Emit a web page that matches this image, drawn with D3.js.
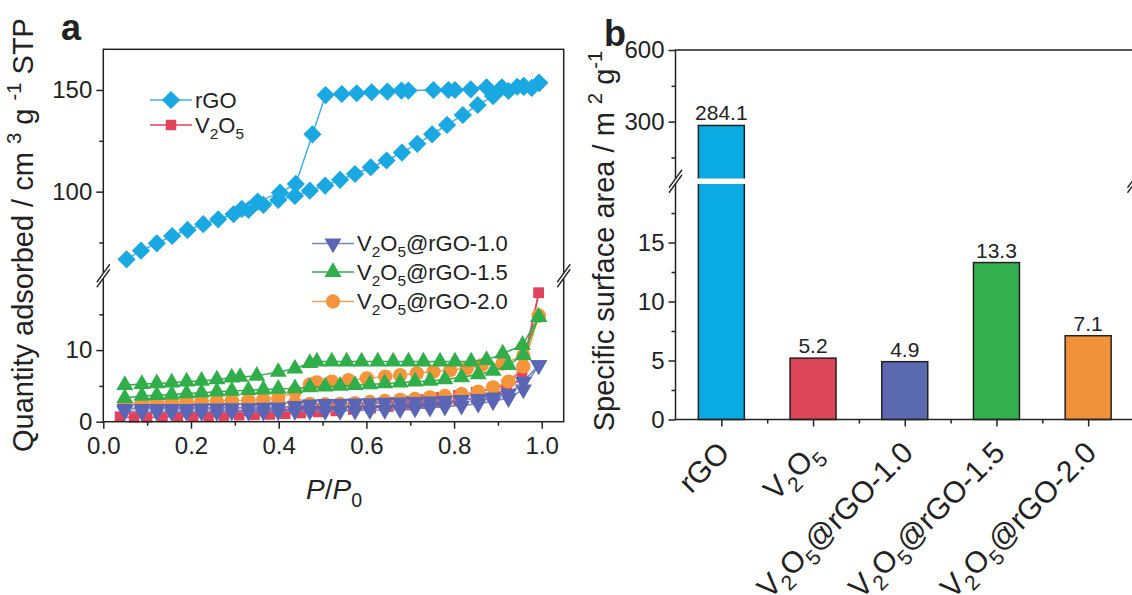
<!DOCTYPE html>
<html>
<head>
<meta charset="utf-8">
<script src="https://cdn.jsdelivr.net/npm/d3@7"></script>
<style>
	body { margin: 0; background: #fff; }
	text { font-family: "Liberation Sans", Arial, sans-serif; fill: #222; }
</style>
</head>
<body>
<script>
// ---------- data ----------

// (b) BET surface area
const categories = ["rGO", "V2O5", "V2O5@rGO-1.0", "V2O5@rGO-1.5", "V2O5@rGO-2.0"];
const surfaceArea = [284.1, 5.2, 4.9, 13.3, 7.1];
const barColors = ["#0aabe2", "#dc4558", "#5b69b1", "#35b04f", "#f0923a"];

// (a) isotherms, P/P0 and quantity adsorbed
const rgoAdsP = [0.053, 0.086, 0.122, 0.157, 0.192, 0.228, 0.262, 0.297, 0.331, 0.365, 0.399, 0.437, 0.471, 0.506,
	0.540, 0.574, 0.610, 0.646, 0.681, 0.716, 0.750, 0.784, 0.820, 0.854, 0.889, 0.924, 0.959, 0.994];
const rgoAdsQ = [66.7, 71.0, 74.6, 78.2, 81.2, 84.0, 86.4, 88.9, 91.0, 93.5, 95.9, 97.9, 100.5, 103.0,
	105.8, 108.7, 112.0, 115.3, 119.2, 123.5, 128.2, 132.8, 137.7, 142.6, 147.0, 149.5, 151.5, 153.5];
const rgoDesP = [0.994, 0.977, 0.959, 0.944, 0.909, 0.874, 0.838, 0.802, 0.787, 0.753, 0.696, 0.680, 0.648, 0.612,
	0.578, 0.544, 0.507, 0.477, 0.439, 0.403, 0.352, 0.316];
const rgoDesQ = [153.5, 151.0, 152.0, 151.6, 151.3, 151.3, 150.3, 150.0, 150.0, 150.0, 149.7, 149.7, 149.2, 148.9,
	148.4, 148.0, 147.5, 128.2, 103.8, 99.5, 95.1, 91.5];

const v2o5AdsP = [0.038, 0.07, 0.1, 0.135, 0.17, 0.205, 0.24, 0.275, 0.31, 0.345, 0.38, 0.415, 0.45, 0.49,
	0.53, 0.57, 0.61, 0.65, 0.69, 0.73, 0.77, 0.81, 0.85, 0.89, 0.92, 0.955, 0.993];
const v2o5AdsQ = [0.7, 0.6, 0.6, 0.65, 0.7, 0.75, 0.8, 0.85, 0.9, 0.95, 1.0, 1.1, 1.2, 1.35,
	1.5, 1.7, 1.9, 2.1, 2.3, 2.5, 2.7, 2.95, 3.3, 3.8, 4.5, 6.2, 18.0];
const v2o5DesP = [0.993, 0.955, 0.92, 0.89, 0.85, 0.81, 0.77, 0.73, 0.69, 0.65, 0.61, 0.57, 0.53, 0.49, 0.45];
const v2o5DesQ = [18.0, 7.4, 5.2, 4.6, 4.1, 3.7, 3.4, 3.1, 2.9, 2.7, 2.5, 2.3, 2.1, 1.8, 1.4];

// pressure points shared by the adsorption runs of the composites
const pGrid = [0.049, 0.088, 0.122, 0.156, 0.190, 0.224, 0.259, 0.293, 0.331, 0.365, 0.399, 0.437, 0.471, 0.506,
	0.540, 0.574, 0.608, 0.642, 0.677, 0.711, 0.745, 0.779, 0.817, 0.855, 0.889, 0.924, 0.958, 0.993];

const c10AdsQ = [1.5, 1.4, 1.4, 1.35, 1.35, 1.35, 1.35, 1.4, 1.4, 1.4, 1.45, 1.5, 1.5, 1.5,
	1.5, 1.55, 1.6, 1.65, 1.75, 1.85, 1.95, 2.1, 2.25, 2.5, 2.85, 3.3, 4.5, 7.9];
const c10DesQ = [1.8, 1.8, 1.8, 1.8, 1.8, 1.85, 1.85, 1.9, 1.9, 1.95, 2.0, 2.2, 2.4, 2.5,
	2.5, 2.55, 2.6, 2.65, 2.7, 2.75, 2.85, 2.95, 3.05, 3.2, 3.4, 3.9, 5.6, 7.9];

const c15AdsQ = [3.3, 3.6, 3.7, 3.8, 3.95, 4.05, 4.2, 4.3, 4.4, 4.5, 4.6, 4.65, 4.8, 4.9,
	5.0, 5.1, 5.2, 5.35, 5.45, 5.6, 5.7, 5.9, 6.2, 6.6, 7.1, 7.9, 9.3, 14.6];
const c15DesP = [0.993, 0.956, 0.911, 0.874, 0.839, 0.802, 0.768, 0.730, 0.696, 0.661, 0.626, 0.589, 0.555, 0.521,
	0.487, 0.471, 0.437, 0.399, 0.350, 0.312, 0.293, 0.259, 0.224, 0.190, 0.156, 0.122, 0.088, 0.049];
const c15DesQ = [14.6, 10.7, 9.5, 8.6, 8.4, 8.4, 8.4, 8.4, 8.4, 8.4, 8.4, 8.4, 8.4, 8.4,
	8.4, 8.2, 7.4, 6.95, 6.4, 6.25, 6.15, 5.9, 5.7, 5.6, 5.45, 5.35, 5.25, 5.1];

const c20AdsQ = [2.3, 2.35, 2.4, 2.4, 2.45, 2.45, 2.5, 2.5, 2.55, 2.55, 2.6, 2.6, 2.5, 2.45,
	2.5, 2.6, 2.75, 2.9, 3.05, 3.2, 3.4, 3.6, 3.85, 4.2, 4.8, 5.6, 7.7, 14.8];
const c20DesP = [0.993, 0.958, 0.910, 0.863, 0.829, 0.791, 0.753, 0.715, 0.677, 0.643, 0.601, 0.559, 0.521, 0.487,
	0.471, 0.437, 0.399, 0.365, 0.331, 0.293, 0.259, 0.224, 0.190, 0.156, 0.122, 0.088, 0.049];
const c20DesQ = [14.8, 9.2, 8.1, 7.9, 7.45, 7.2, 7.0, 6.75, 6.5, 6.3, 6.05, 5.8, 5.6, 5.5,
	5.2, 4.2, 3.3, 3.1, 3.0, 2.95, 2.9, 2.85, 2.8, 2.75, 2.7, 2.65, 2.6];

// ticks
const xTicks = [0, 0.2, 0.4, 0.6, 0.8, 1.0];
const xMinor = [0.1, 0.3, 0.5, 0.7, 0.9];
const yTicksUpperL = [100, 150], yMinorUpperL = [75, 125];
const yTicksLowerL = [0, 10], yMinorLowerL = [5, 15];
const yTicksUpperR = [300, 600], yMinorUpperR = [150, 450];
const yTicksLowerR = [0, 5, 10, 15], yMinorLowerR = [2.5, 7.5, 12.5, 17.5];

// ---------- helpers ----------
const ink = "#222";
const svg = d3.select("body").append("svg").attr("width", 1132).attr("height", 595);

// turns "V2O5@rGO-1.0" into text parts with subscripts
function nameParts(name) {
	if (name.startsWith("V2O5")) {
		return [["V", ""], ["2", "sub"], ["O", ""], ["5", "sub"], [name.slice(4), ""]];
	}
	return [[name, ""]];
}

// writes parts ([text, kind]) as tspans, kind is "", "sub", "sup" or "i"
function richText(sel, parts, size) {
	let shift = 0;
	for (const [t, kind] of parts) {
		if (t === "") continue;
		let target = kind == "sub" ? 0.28 * size : kind == "sup" ? -0.42 * size : 0;
		let ts = sel.append("tspan").attr("dy", target - shift).text(t);
		if (kind == "sub" || kind == "sup") ts.attr("font-size", size * 0.7);
		if (kind == "i") ts.attr("font-style", "italic");
		shift = target;
	}
}

function styleAxis(g) {
	g.select(".domain").remove();
	g.selectAll("line").attr("stroke", ink).attr("stroke-width", 1.5);
	g.selectAll("text").attr("font-size", 24).attr("fill", ink);
}

// the "//" sign over an axis break
function breakMark(x, y, gap) {
	svg.append("rect").attr("x", x - 3).attr("y", y - gap / 2).attr("width", 6).attr("height", gap).attr("fill", "#fff");
	for (const d of [-2.5, 2.5]) {
		svg.append("line")
			.attr("x1", x - 6.5).attr("y1", y + d + 9)
			.attr("x2", x + 6.5).attr("y2", y + d - 9)
			.attr("stroke", ink).attr("stroke-width", 1.3);
	}
}

function symbolPath(kind) {
	if (kind == "diamond") return { d: d3.symbol(d3.symbolSquare, 165)(), rot: 45 };
	if (kind == "square") return { d: d3.symbol(d3.symbolSquare, 110)(), rot: 0 };
	if (kind == "up") return { d: d3.symbol(d3.symbolTriangle, 125)(), rot: 0 };
	if (kind == "down") return { d: d3.symbol(d3.symbolTriangle, 125)(), rot: 180 };
	return { d: d3.symbol(d3.symbolCircle, 160)(), rot: 0 };
}

// ---------- panel a ----------
const xL = d3.scaleLinear().domain([0, 1.05]).range([103.3, 563.7]);
const yLUp = d3.scaleLinear().domain([60, 170]).range([273, 49.3]);
const yLLo = d3.scaleLinear().domain([0, 20]).range([421.7, 278.5]);
const yL = v => v > 40 ? yLUp(v) : yLLo(v);

const isotherms = [
	{ name: "rGO", color: "#19a8e1", line: "#3fb2e3", symbol: "diamond", runs: [[rgoAdsP, rgoAdsQ], [rgoDesP, rgoDesQ]] },
	{ name: "V2O5", color: "#e0435b", line: "#e0435b", symbol: "square", runs: [[v2o5AdsP, v2o5AdsQ], [v2o5DesP, v2o5DesQ]] },
	{ name: "V2O5@rGO-1.0", color: "#5a66b5", line: "#7a84c4", symbol: "down", runs: [[pGrid, c10AdsQ], [pGrid, c10DesQ]] },
	{ name: "V2O5@rGO-1.5", color: "#2fae4a", line: "#2fae4a", symbol: "up", runs: [[pGrid, c15AdsQ], [c15DesP, c15DesQ]] },
	{ name: "V2O5@rGO-2.0", color: "#f4943b", line: "#f4a050", symbol: "circle", runs: [[pGrid, c20AdsQ], [c20DesP, c20DesQ]] }
];
const drawOrder = [0, 1, 4, 3, 2];

const line = d3.line().x(d => xL(d[0])).y(d => yL(d[1]));

for (const k of drawOrder) {
	const s = isotherms[k];
	const sym = symbolPath(s.symbol);
	for (const [ps, qs] of s.runs) {
		const pts = ps.map((p, i) => [p, qs[i]]);
		svg.append("path").datum(pts)
			.attr("d", line).attr("fill", "none")
			.attr("stroke", s.line).attr("stroke-width", 1.5);
		svg.append("g").selectAll("path").data(pts).enter().append("path")
			.attr("d", sym.d)
			.attr("transform", d => `translate(${xL(d[0])},${yL(d[1])}) rotate(${sym.rot})`)
			.attr("fill", s.color);
	}
}

// frame and axes
svg.append("rect").attr("x", xL(0)).attr("y", yLUp(170))
	.attr("width", xL(1.05) - xL(0)).attr("height", yLLo(0) - yLUp(170))
	.attr("fill", "none").attr("stroke", ink).attr("stroke-width", 1.5);

svg.append("g").attr("transform", `translate(${xL(0)},0)`)
	.call(d3.axisLeft(yLUp).tickValues(yTicksUpperL).tickSize(7).tickPadding(4)).call(styleAxis);
svg.append("g").attr("transform", `translate(${xL(0)},0)`)
	.call(d3.axisLeft(yLUp).tickValues(yMinorUpperL).tickSize(4).tickFormat("")).call(styleAxis);
svg.append("g").attr("transform", `translate(${xL(0)},0)`)
	.call(d3.axisLeft(yLLo).tickValues(yTicksLowerL).tickSize(7).tickPadding(4)).call(styleAxis);
svg.append("g").attr("transform", `translate(${xL(0)},0)`)
	.call(d3.axisLeft(yLLo).tickValues(yMinorLowerL).tickSize(4).tickFormat("")).call(styleAxis);
svg.append("g").attr("transform", `translate(0,${yLLo(0)})`)
	.call(d3.axisBottom(xL).tickValues(xTicks).tickSize(7).tickPadding(8).tickFormat(d3.format(".1f"))).call(styleAxis);
svg.append("g").attr("transform", `translate(0,${yLLo(0)})`)
	.call(d3.axisBottom(xL).tickValues(xMinor).tickSize(4).tickFormat("")).call(styleAxis);

breakMark(xL(0), (yLUp(60) + yLLo(20)) / 2, 6);
breakMark(xL(1.05), (yLUp(60) + yLLo(20)) / 2, 6);

// legends
const legendRows = [
	{ k: 0, x: 150, y: 100 }, { k: 1, x: 150, y: 125 },
	{ k: 2, x: 312, y: 243.5 }, { k: 3, x: 312, y: 272 }, { k: 4, x: 312, y: 301.5 }
];
for (const r of legendRows) {
	const s = isotherms[r.k];
	const sym = symbolPath(s.symbol);
	svg.append("line").attr("x1", r.x).attr("x2", r.x + 42).attr("y1", r.y).attr("y2", r.y)
		.attr("stroke", s.line).attr("stroke-width", 1.5);
	svg.append("path").attr("d", sym.d)
		.attr("transform", `translate(${r.x + 21},${r.y}) rotate(${sym.rot})`).attr("fill", s.color);
	svg.append("text").attr("x", r.x + 45).attr("y", r.y + 7.5).attr("font-size", 22)
		.call(richText, nameParts(s.name), 22);
}

// titles
svg.append("text").attr("transform", "translate(33,235) rotate(-90)")
	.attr("text-anchor", "middle").attr("font-size", 29)
	.call(richText, [["Quantity adsorbed / cm ", ""], ["3", "sup"], [" g ", ""], ["-1", "sup"], [" STP", ""]], 29);
svg.append("text").attr("x", 334).attr("y", 499).attr("text-anchor", "middle").attr("font-size", 28)
	.call(richText, [["P", "i"], ["/", ""], ["P", "i"], ["0", "sub"]], 28);
svg.append("text").attr("x", 61).attr("y", 40).attr("font-size", 36).attr("font-weight", "bold").text("a");

// ---------- panel b ----------
const xR = d3.scaleLinear().domain([0.5, 5.5]).range([675.5, 1134]);
const yRUp = d3.scaleLinear().domain([60, 600]).range([179, 50]);
const yRLo = d3.scaleLinear().domain([0, 20]).range([419.5, 183.5]);
const yR = v => v > 40 ? yRUp(v) : yRLo(v);
const barW = 46;

svg.append("g").selectAll("rect").data(surfaceArea).enter().append("rect")
	.attr("x", (d, i) => xR(i + 1) - barW / 2)
	.attr("y", d => yR(d))
	.attr("width", barW)
	.attr("height", d => yRLo(0) - yR(d))
	.attr("fill", (d, i) => barColors[i])
	.attr("stroke", ink).attr("stroke-width", 1.5);

// white cut through bars that cross the break
surfaceArea.forEach((d, i) => {
	if (d > 40) {
		svg.append("rect").attr("x", xR(i + 1) - barW / 2 - 3).attr("y", yRUp(60) - 0.5)
			.attr("width", barW + 6).attr("height", yRLo(20) - yRUp(60) + 1).attr("fill", "#fff");
	}
});

svg.append("g").selectAll("text").data(surfaceArea).enter().append("text")
	.attr("x", (d, i) => xR(i + 1))
	.attr("y", d => yR(d) - 5)
	.attr("text-anchor", "middle").attr("font-size", 21)
	.text(d => d.toFixed(1));

svg.append("rect").attr("x", xR(0.5)).attr("y", yRUp(600))
	.attr("width", xR(5.5) - xR(0.5)).attr("height", yRLo(0) - yRUp(600))
	.attr("fill", "none").attr("stroke", ink).attr("stroke-width", 1.5);

svg.append("g").attr("transform", `translate(${xR(0.5)},0)`)
	.call(d3.axisLeft(yRUp).tickValues(yTicksUpperR).tickSize(7).tickPadding(4)).call(styleAxis);
svg.append("g").attr("transform", `translate(${xR(0.5)},0)`)
	.call(d3.axisLeft(yRUp).tickValues(yMinorUpperR).tickSize(4).tickFormat("")).call(styleAxis);
svg.append("g").attr("transform", `translate(${xR(0.5)},0)`)
	.call(d3.axisLeft(yRLo).tickValues(yTicksLowerR).tickSize(7).tickPadding(4)).call(styleAxis);
svg.append("g").attr("transform", `translate(${xR(0.5)},0)`)
	.call(d3.axisLeft(yRLo).tickValues(yMinorLowerR).tickSize(4).tickFormat("")).call(styleAxis);
svg.append("g").attr("transform", `translate(0,${yRLo(0)})`)
	.call(d3.axisBottom(xR).tickValues(categories.map((c, i) => i + 1)).tickSize(7).tickFormat("")).call(styleAxis);
svg.append("g").attr("transform", `translate(0,${yRLo(0)})`)
	.call(d3.axisBottom(xR).tickValues([1.5, 2.5, 3.5, 4.5]).tickSize(4).tickFormat("")).call(styleAxis);

breakMark(xR(0.5), (yRUp(60) + yRLo(20)) / 2, 5);
breakMark(xR(5.5), (yRUp(60) + yRLo(20)) / 2, 5);

// rotated category labels
categories.forEach((c, i) => {
	const ax = xR(i + 1) + 10, ay = yRLo(0) + 35;
	svg.append("text").attr("transform", `translate(${ax},${ay}) rotate(-45)`)
		.attr("text-anchor", "end").attr("font-size", 30)
		.call(richText, nameParts(c), 30);
});

svg.append("text").attr("transform", "translate(614,241) rotate(-90)")
	.attr("text-anchor", "middle").attr("font-size", 29)
	.call(richText, [["Specific surface area / m ", ""], ["2", "sup"], [" g", ""], ["-1", "sup"]], 29);
svg.append("text").attr("x", 604).attr("y", 46).attr("font-size", 36).attr("font-weight", "bold").text("b");
</script>
</body>
</html>
